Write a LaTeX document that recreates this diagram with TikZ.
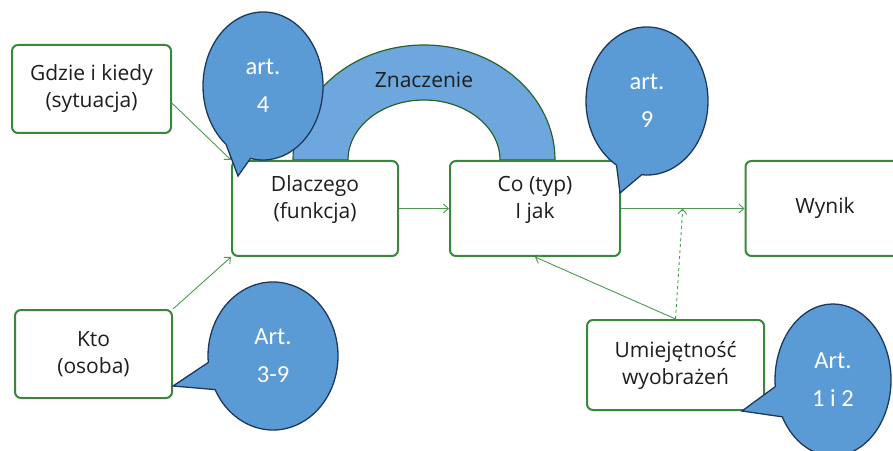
\documentclass[tikz,border=0pt]{standalone}
\usepackage{fontspec}
\setmainfont{Open Sans}
\newfontfamily\bubfont{Carlito}
\usetikzlibrary{arrows.meta,calc}
\definecolor{boxgreen}{RGB}{58,135,60}
\definecolor{arrowgreen}{RGB}{80,152,80}
\definecolor{bubblue}{RGB}{91,155,213}
\definecolor{bubedge}{RGB}{30,56,92}
\definecolor{archblue}{RGB}{110,167,221}
\definecolor{archedge}{RGB}{40,100,40}
\definecolor{txt}{RGB}{30,30,30}
\begin{document}
\begin{tikzpicture}[x=1pt,y=1pt,
  box/.style={draw=boxgreen,line width=2pt,fill=white,rounded corners=6pt,inner sep=0pt,align=center,text=txt,font=\fontsize{21}{27}\selectfont},
  conn/.style={draw=arrowgreen,line width=0.9pt,-{Straight Barb[length=5pt,width=9pt]}},
  bubble/.style={fill=bubblue,draw=bubedge,line width=1.3pt},
  bubtext/.style={text=white,align=center,font=\bubfont\fontsize{24.5}{38}\selectfont},
  archstyle/.style={fill=archblue,draw=archedge,line width=1.2pt}]
\useasboundingbox (0,0) rectangle (893,450);
\clip (0,0) rectangle (893,450);
% arch
\path[archstyle] (293,290) arc[start angle=180,end angle=0,x radius=131,y radius=115]
  -- (500,290) arc[start angle=0,end angle=180,x radius=76,y radius=60] -- cycle;
\node[text=txt,font=\fontsize{21}{27}\selectfont] (znacz) at (424,370) {Znaczenie};
% boxes
\node[box,minimum width=159,minimum height=88] (gdzie) at (91.5,361) {Gdzie i kiedy\\(sytuacja)};
\node[box,minimum width=166,minimum height=95] (dlaczego) at (315,241.5) {Dlaczego\\(funkcja)\\[-4pt]};
\node[box,minimum width=170,minimum height=95] (co) at (535,241.5) {Co (typ)\\I jak\\[-4pt]};
\node[box,minimum width=159,minimum height=95] (wynik) at (825,241.5) {Wynik};
\node[box,minimum width=157,minimum height=88] (kto) at (93.5,96) {Kto\\(osoba)};
\node[box,minimum width=177,minimum height=90] (umiej) at (675.5,85) {Umiejętność\\wyobrażeń};
% connectors
\coordinate (mid) at ($(co.east)!0.5!(wynik.west)$);
\draw[conn] (gdzie.-10) -- (dlaczego.north west);
\draw[conn] (kto.north east) -- (dlaczego.south west);
\draw[conn] (dlaczego.east) -- (co.west);
\draw[conn] (co.east) -- (wynik.west);
\draw[conn] (umiej.north) -- (co.south);
\draw[conn,dashed] (umiej.north) -- (mid);
% bubbles
\path[bubble] (263,364) ++(258:60 and 74) arc[start angle=258,end angle=592,x radius=60,y radius=74] -- (238,274) -- cycle;
\node[bubtext] (b4) at (263,364) {art.\\4};
\path[bubble] (647,349) ++(265:61 and 74) arc[start angle=265,end angle=600,x radius=61,y radius=74] -- (620,257) -- cycle;
\node[bubtext] (b9) at (647,349) {art.\\9};
\path[bubble] (273,94) ++(207:65 and 74) arc[start angle=207,end angle=545,x radius=65,y radius=74] -- (173,64) -- cycle;
\node[bubtext] (b39) at (273,94) {Art.\\3-9};
\path[bubble] (833,70) ++(209:58 and 76) arc[start angle=209,end angle=545,x radius=58,y radius=76] -- (742,39) -- cycle;
\node[bubtext] (b12) at (833,70) {Art.\\1 i 2};
\end{tikzpicture}
\end{document}
